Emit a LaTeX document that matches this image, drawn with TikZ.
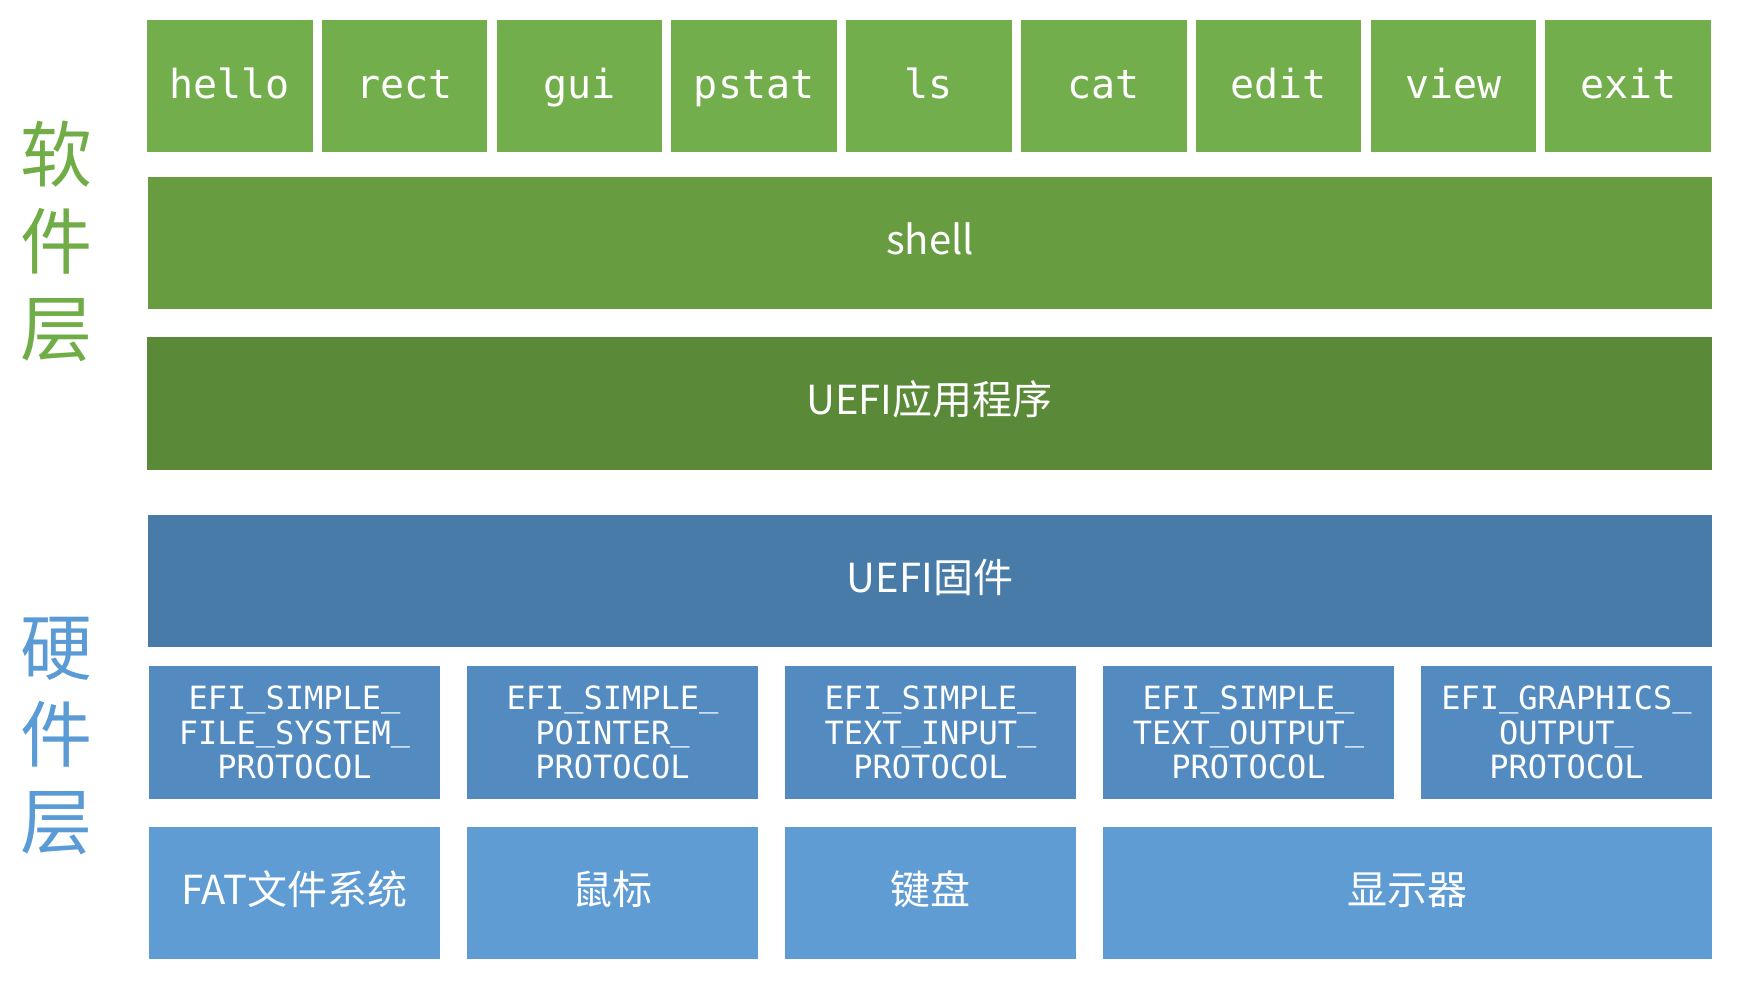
\documentclass[tikz,border=0pt]{standalone}
\usepackage{fontspec}
\setmainfont{Noto Sans CJK SC}
\newfontfamily\monof{DejaVu Sans Mono}
\newcommand{\us}{\raisebox{0.1em}{\_}}
\definecolor{gA}{HTML}{73AE4C}
\definecolor{gB}{HTML}{679D40}
\definecolor{gC}{HTML}{5A8937}
\definecolor{bA}{HTML}{487BA8}
\definecolor{bB}{HTML}{538BC1}
\definecolor{bC}{HTML}{609CD4}
\definecolor{gLbl}{HTML}{70AD47}
\definecolor{bLbl}{HTML}{5B9BD5}
\tikzset{
  blk/.style={anchor=north west, inner sep=0pt, outer sep=0pt, text=white, align=center},
  topbox/.style={blk, fill=gA, minimum width=165.5pt, minimum height=132pt, text height=30pt, text depth=6pt, font=\monof\fontsize{40}{48}\selectfont},
  widebox/.style={blk, minimum height=132pt, text height=28pt, text depth=6pt, font=\fontsize{40}{48}\selectfont},
  protobox/.style={blk, fill=bB, minimum width=291pt, minimum height=133pt, font=\monof\fontsize{32}{34.5}\selectfont},
  devbox/.style={blk, fill=bC, minimum height=132pt, text height=28pt, text depth=6pt, font=\fontsize{40}{48}\selectfont},
  sidelbl/.style={inner sep=0pt, align=center, font=\fontsize{72}{87}\selectfont}
}
\begin{document}
\begin{tikzpicture}[x=1pt,y=-1pt]
\useasboundingbox (0,0) rectangle (1740,980);
% top row
\node[topbox] (hello) at (147,20) {hello};
\node[topbox] (rect) at (321.8,20) {rect};
\node[topbox] (gui) at (496.6,20) {gui};
\node[topbox] (pstat) at (671.4,20) {pstat};
\node[topbox] (ls) at (846.2,20) {ls};
\node[topbox] (cat) at (1021,20) {cat};
\node[topbox] (edit) at (1195.8,20) {edit};
\node[topbox] (view) at (1370.6,20) {view};
\node[topbox] (exit) at (1545.4,20) {exit};
% shell / app
\node[widebox, fill=gB, minimum width=1564pt] (shell) at (148,177) {shell};
\node[widebox, fill=gC, minimum width=1565pt, minimum height=133pt] (app) at (147,337) {UEFI应用程序};
% firmware
\node[widebox, fill=bA, minimum width=1564pt] (fw) at (148,515) {UEFI固件};
% protocols
\node[protobox] (p1) at (149,666) {EFI\us SIMPLE\us\\FILE\us SYSTEM\us\\PROTOCOL};
\node[protobox] (p2) at (467,666) {EFI\us SIMPLE\us\\POINTER\us\\PROTOCOL};
\node[protobox] (p3) at (785,666) {EFI\us SIMPLE\us\\TEXT\us INPUT\us\\PROTOCOL};
\node[protobox] (p4) at (1103,666) {EFI\us SIMPLE\us\\TEXT\us OUTPUT\us\\PROTOCOL};
\node[protobox] (p5) at (1421,666) {EFI\us GRAPHICS\us\\OUTPUT\us\\PROTOCOL};
% devices
\node[devbox, minimum width=291pt] (d1) at (149,827) {FAT文件系统};
\node[devbox, minimum width=291pt] (d2) at (467,827) {鼠标};
\node[devbox, minimum width=291pt] (d3) at (785,827) {键盘};
\node[devbox, minimum width=609pt] (d4) at (1103,827) {显示器};
% side labels
\node[sidelbl, text=gLbl] (sw) at (56,241) {软\\件\\层};
\node[sidelbl, text=bLbl] (hw) at (56,736) {硬\\件\\层};
\end{tikzpicture}
\end{document}
